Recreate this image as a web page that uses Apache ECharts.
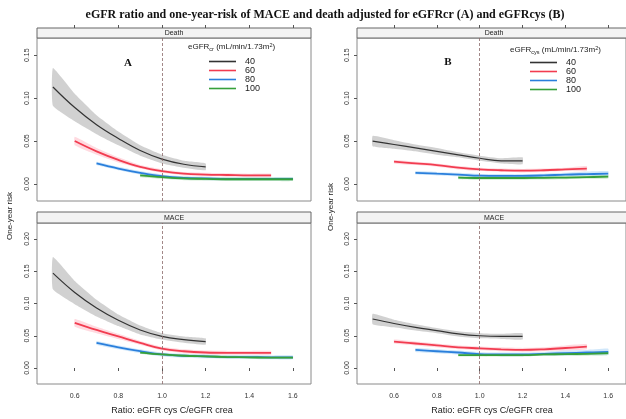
<!DOCTYPE html>
<html><head><meta charset="utf-8">
<script src="https://cdn.jsdelivr.net/npm/echarts@6/dist/echarts.min.js"></script>
<style>html,body{margin:0;padding:0;background:#fff}#c{width:626px;height:419px}</style>
</head><body><div id="c"></div>
<script>
// ---- data ----
const groups = ['40', '60', '80', '100'];
const x40  = [0.5, 0.6, 0.7, 0.8, 0.9, 1.0, 1.1, 1.2];
const x60  = [0.6, 0.7, 0.8, 0.9, 1.0, 1.1, 1.2, 1.3, 1.4, 1.5];
const x80  = [0.7, 0.8, 0.9, 1.0, 1.1, 1.2, 1.3, 1.4, 1.5, 1.6];
const x100 = [0.9, 1.0, 1.1, 1.2, 1.3, 1.4, 1.5, 1.6];

// Death, panel A (adjusted for eGFRcr)
const deathA40  = [0.113, 0.089, 0.069, 0.053, 0.039, 0.029, 0.023, 0.020];
const deathA60  = [0.050, 0.038, 0.028, 0.020, 0.015, 0.012, 0.011, 0.0105, 0.010, 0.010];
const deathA80  = [0.024, 0.018, 0.013, 0.009, 0.007, 0.0065, 0.006, 0.006, 0.006, 0.006];
const deathA100 = [0.010, 0.008, 0.0065, 0.006, 0.0055, 0.0055, 0.0055, 0.0055];
const ciDeathA40  = [0.022, 0.016, 0.011, 0.008, 0.006, 0.005, 0.004, 0.004];
const ciDeathA60  = [0.005, 0.004, 0.003, 0.002, 0.002, 0.002, 0.002, 0.002, 0.002, 0.002];
const ciDeathA80  = [0.002, 0.002, 0.002, 0.002, 0.002, 0.002, 0.002, 0.002, 0.002, 0.002];
const ciDeathA100 = [0.002, 0.002, 0.002, 0.002, 0.002, 0.002, 0.002, 0.002];

// Death, panel B (adjusted for eGFRcys)
const deathB40  = [0.050, 0.046, 0.042, 0.038, 0.034, 0.030, 0.027, 0.027];
const deathB60  = [0.026, 0.024, 0.022, 0.019, 0.017, 0.016, 0.0155, 0.016, 0.017, 0.018];
const deathB80  = [0.013, 0.012, 0.011, 0.0097, 0.0095, 0.0095, 0.010, 0.011, 0.0115, 0.012];
const deathB100 = [0.0075, 0.007, 0.007, 0.007, 0.0072, 0.0075, 0.008, 0.0085];
const ciDeathB40  = [0.006, 0.005, 0.004, 0.004, 0.003, 0.003, 0.003, 0.004];
const ciDeathB60  = [0.002, 0.002, 0.002, 0.002, 0.002, 0.002, 0.002, 0.002, 0.002, 0.003];
const ciDeathB80  = [0.002, 0.002, 0.002, 0.002, 0.002, 0.002, 0.002, 0.002, 0.003, 0.003];
const ciDeathB100 = [0.002, 0.002, 0.002, 0.002, 0.002, 0.002, 0.002, 0.002];

// MACE, panel A
const maceA40  = [0.147, 0.117, 0.093, 0.074, 0.059, 0.049, 0.044, 0.041];
const maceA60  = [0.070, 0.059, 0.049, 0.039, 0.030, 0.026, 0.024, 0.0235, 0.0235, 0.0235];
const maceA80  = [0.039, 0.032, 0.026, 0.021, 0.019, 0.018, 0.017, 0.017, 0.0165, 0.0165];
const maceA100 = [0.024, 0.021, 0.019, 0.018, 0.017, 0.0165, 0.016, 0.016];
const ciMaceA40  = [0.025, 0.018, 0.013, 0.009, 0.007, 0.005, 0.005, 0.005];
const ciMaceA60  = [0.006, 0.005, 0.004, 0.003, 0.003, 0.003, 0.003, 0.003, 0.003, 0.003];
const ciMaceA80  = [0.003, 0.003, 0.003, 0.003, 0.003, 0.003, 0.003, 0.003, 0.003, 0.003];
const ciMaceA100 = [0.002, 0.002, 0.002, 0.002, 0.002, 0.002, 0.002, 0.002];

// MACE, panel B
const maceB40  = [0.076, 0.069, 0.063, 0.058, 0.053, 0.050, 0.049, 0.049];
const maceB60  = [0.041, 0.038, 0.035, 0.032, 0.0305, 0.029, 0.028, 0.029, 0.031, 0.033];
const maceB80  = [0.028, 0.026, 0.024, 0.0215, 0.021, 0.021, 0.022, 0.023, 0.024, 0.025];
const maceB100 = [0.020, 0.020, 0.020, 0.020, 0.021, 0.0215, 0.022, 0.023];
const ciMaceB40  = [0.008, 0.006, 0.005, 0.004, 0.004, 0.004, 0.004, 0.005];
const ciMaceB60  = [0.003, 0.003, 0.003, 0.003, 0.003, 0.003, 0.003, 0.003, 0.004, 0.004];
const ciMaceB80  = [0.003, 0.003, 0.003, 0.003, 0.003, 0.003, 0.003, 0.004, 0.004, 0.005];
const ciMaceB100 = [0.002, 0.002, 0.002, 0.002, 0.002, 0.002, 0.003, 0.003];

const xTicks = [0.6, 0.8, 1.0, 1.2, 1.4, 1.6];
const yTicksDeath = [0.00, 0.05, 0.10, 0.15];
const yTicksMace = [0.00, 0.05, 0.10, 0.15, 0.20];
const refRatio = 1.0;

// ---- styles / layout ----
const lineColors = ['#333333', '#f23c50', '#2a7fdc', '#36a03a'];
const bandColors = ['rgba(140,140,140,0.40)', 'rgba(255,150,165,0.35)', 'rgba(120,185,240,0.35)', 'rgba(120,200,120,0.35)'];
const lineWidths = [1.2, 1.8, 1.8, 1.8];
const xsList = [x40, x60, x80, x100];
const FONT = '"Liberation Sans", Arial, sans-serif';

const panels = [
  { ys: [deathA40, deathA60, deathA80, deathA100], ci: [ciDeathA40, ciDeathA60, ciDeathA80, ciDeathA100], yMin: -0.0198, yMax: 0.170, yTicks: yTicksDeath },
  { ys: [deathB40, deathB60, deathB80, deathB100], ci: [ciDeathB40, ciDeathB60, ciDeathB80, ciDeathB100], yMin: -0.0198, yMax: 0.170, yTicks: yTicksDeath },
  { ys: [maceA40, maceA60, maceA80, maceA100], ci: [ciMaceA40, ciMaceA60, ciMaceA80, ciMaceA100], yMin: -0.0248, yMax: 0.2248, yTicks: yTicksMace },
  { ys: [maceB40, maceB60, maceB80, maceB100], ci: [ciMaceB40, ciMaceB60, ciMaceB80, ciMaceB100], yMin: -0.0248, yMax: 0.2248, yTicks: yTicksMace }
];
const grids = [
  { left: 37, top: 38, width: 274, height: 163 },
  { left: 357, top: 38, width: 274, height: 163 },
  { left: 37, top: 223, width: 274, height: 161 },
  { left: 357, top: 223, width: 274, height: 161 }
];
const X_MIN = 0.427, X_MAX = 1.683;

const xAxes = [], yAxes = [], series = [];
grids.forEach((g, i) => {
  const isBottom = i >= 2;
  xAxes.push({
    type: 'value', gridIndex: i, min: X_MIN, max: X_MAX,
    axisLine: { show: false }, splitLine: { show: false },
    axisTick: { show: isBottom, customValues: xTicks, length: 3, lineStyle: { color: '#555' } },
    axisLabel: { show: isBottom, customValues: xTicks, formatter: v => v.toFixed(1), fontSize: 7, color: '#333', fontFamily: FONT, margin: 9 }
  });
  const p = panels[i];
  yAxes.push({
    type: 'value', gridIndex: i, min: p.yMin, max: p.yMax,
    axisLine: { show: false }, splitLine: { show: false },
    axisTick: { show: true, customValues: p.yTicks, length: 3, lineStyle: { color: '#555' } },
    axisLabel: { customValues: p.yTicks, formatter: v => v.toFixed(2), rotate: 90, fontSize: 7, color: '#333', fontFamily: FONT, margin: 6 }
  });
});
// top tick marks above the strips of the upper panels
[0, 1].forEach(i => {
  xAxes.push({
    type: 'value', gridIndex: i, position: 'top', offset: 10, min: X_MIN, max: X_MAX,
    axisLine: { show: false }, splitLine: { show: false },
    axisTick: { show: true, customValues: xTicks, length: 3, lineStyle: { color: '#555' } },
    axisLabel: { show: false }
  });
});

panels.forEach((p, pi) => {
  groups.forEach((gname, gi) => {
    const xs = xsList[gi], ys = p.ys[gi], ci = p.ci[gi];
    series.push({
      type: 'custom', name: 'band' + pi + gi, xAxisIndex: pi, yAxisIndex: pi, silent: true, z: 1,
      data: [[xs[0], ys[0]]],
      renderItem: function (params, api) {
        const pts = [];
        for (let k = 0; k < xs.length; k++) pts.push(api.coord([xs[k], ys[k] + ci[k]]));
        for (let k = xs.length - 1; k >= 0; k--) pts.push(api.coord([xs[k], ys[k] - ci[k]]));
        return { type: 'polygon', shape: { points: pts, smooth: 0.12 }, style: { fill: bandColors[gi] } };
      }
    });
  });
  groups.forEach((gname, gi) => {
    const xs = xsList[gi], ys = p.ys[gi];
    const s = {
      type: 'line', name: gname, xAxisIndex: pi, yAxisIndex: pi, z: 3,
      data: xs.map((x, k) => [x, ys[k]]), smooth: 0.4, showSymbol: false, symbol: 'none',
      lineStyle: { color: lineColors[gi], width: lineWidths[gi] }, itemStyle: { color: lineColors[gi] },
      silent: true
    };
    if (gi === 0) {
      s.markLine = { silent: true, symbol: 'none', label: { show: false }, data: [{ xAxis: refRatio }],
        lineStyle: { type: [3, 2], color: '#8a6a6a', width: 0.8 } };
    }
    series.push(s);
  });
});

const legendBase = {
  data: groups, orient: 'vertical', icon: 'rect', itemWidth: 27, itemHeight: 1.6, itemGap: 0, padding: 0,
  textStyle: { fontSize: 9, lineHeight: 8.5, color: '#222', fontFamily: FONT, padding: [0, 0, 0, 4] }, selectedMode: false
};

function strip(x, y, w, h, label) {
  return [
    { type: 'rect', shape: { x: x, y: y, width: w, height: h }, style: { fill: '#f3f3f3', stroke: '#666', lineWidth: 1 } },
    { type: 'text', x: x + w / 2, y: y + h / 2 + 0.5, style: { text: label, font: '7px ' + FONT, fill: '#222', textAlign: 'center', textVerticalAlign: 'middle' } }
  ];
}
function legendTitle(x, y, sub) {
  return { type: 'text', x: x, y: y, style: {
    text: 'eGFR{s|' + sub + '} (mL/min/1.73m{p|2})', font: '8px ' + FONT, fill: '#222', textVerticalAlign: 'middle',
    rich: { s: { fontSize: 5.5, padding: [4, 0, 0, 0], fontFamily: FONT }, p: { fontSize: 5.5, padding: [0, 0, 4, 0], fontFamily: FONT } }
  } };
}

const graphics = [].concat(
  [{ type: 'text', x: 325, y: 15, style: { text: 'eGFR ratio and one-year-risk of MACE and death adjusted for eGFRcr (A) and eGFRcys (B)',
     font: 'bold 12px "Liberation Serif", "Times New Roman", serif', fill: '#111', textAlign: 'center', textVerticalAlign: 'middle' } }],
  strip(37, 28, 274, 10, 'Death'), strip(357, 28, 274, 10, 'Death'),
  strip(37, 212, 274, 11, 'MACE'), strip(357, 212, 274, 11, 'MACE'),
  [
    { type: 'text', x: 128, y: 63, style: { text: 'A', font: 'bold 11px "Liberation Serif", serif', fill: '#111', textAlign: 'center', textVerticalAlign: 'middle' } },
    { type: 'text', x: 448, y: 62, style: { text: 'B', font: 'bold 11px "Liberation Serif", serif', fill: '#111', textAlign: 'center', textVerticalAlign: 'middle' } },
    legendTitle(188, 47, 'cr'), legendTitle(510, 50, 'cys'),
    { type: 'text', x: 10, y: 216, rotation: Math.PI / 2, style: { text: 'One-year risk', font: '8px ' + FONT, fill: '#222', textAlign: 'center', textVerticalAlign: 'middle' } },
    { type: 'text', x: 331, y: 207, rotation: Math.PI / 2, style: { text: 'One-year risk', font: '8px ' + FONT, fill: '#222', textAlign: 'center', textVerticalAlign: 'middle' } },
    { type: 'text', x: 172, y: 411, style: { text: 'Ratio: eGFR cys C/eGFR crea', font: '9px ' + FONT, fill: '#222', textAlign: 'center', textVerticalAlign: 'middle' } },
    { type: 'text', x: 492, y: 411, style: { text: 'Ratio: eGFR cys C/eGFR crea', font: '9px ' + FONT, fill: '#222', textAlign: 'center', textVerticalAlign: 'middle' } }
  ]
);

const chart = echarts.init(document.getElementById('c'), null, { renderer: 'canvas' });
chart.setOption({
  backgroundColor: '#ffffff',
  animation: false,
  grid: grids.map(g => Object.assign({ show: true, borderColor: '#8a8a8a', borderWidth: 1, backgroundColor: 'transparent' }, g)),
  xAxis: xAxes,
  yAxis: yAxes,
  legend: [
    Object.assign({ left: 209, top: 57 }, legendBase),
    Object.assign({ left: 530, top: 58 }, legendBase)
  ],
  series: series,
  graphic: graphics
});
</script>
</body></html>
